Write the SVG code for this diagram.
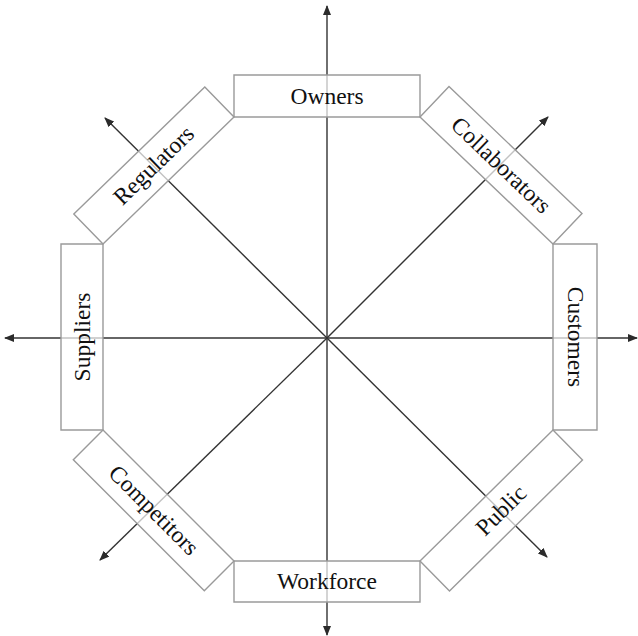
<svg xmlns="http://www.w3.org/2000/svg" width="638" height="636" viewBox="0 0 638 636">
  <defs>
    <marker id="arrow" viewBox="0 0 10 8" refX="9" refY="4" markerWidth="10" markerHeight="8" markerUnits="userSpaceOnUse" orient="auto-start-reverse">
      <path d="M0,0 L10,4 L0,8 Z" fill="#2b2b2b"/>
    </marker>
    <style>
      .axis { stroke: #333; stroke-width: 1.4; fill: none; }
      .box { fill: #ffffff; fill-opacity: 0.7; stroke: #9a9a9a; stroke-width: 1.4; }
      .lbl { font-family: "Liberation Serif", "DejaVu Serif", serif; font-size: 23.5px; fill: #111; text-anchor: middle; }
    </style>
  </defs>
  <rect width="638" height="636" fill="#ffffff"/>

  <!-- axes through the hub -->
  <g id="connectors">
    <line class="axis" x1="327" y1="338" x2="327" y2="6" marker-end="url(#arrow)"/>
    <line class="axis" x1="327" y1="338" x2="327" y2="635" marker-end="url(#arrow)"/>
    <line class="axis" x1="327" y1="338" x2="5" y2="338" marker-end="url(#arrow)"/>
    <line class="axis" x1="327" y1="338" x2="637" y2="338" marker-end="url(#arrow)"/>
    <line class="axis" x1="327" y1="338" x2="105" y2="118" marker-end="url(#arrow)"/>
    <line class="axis" x1="327" y1="338" x2="548" y2="117" marker-end="url(#arrow)"/>
    <line class="axis" x1="327" y1="338" x2="100" y2="560" marker-end="url(#arrow)"/>
    <line class="axis" x1="327" y1="338" x2="547" y2="557" marker-end="url(#arrow)"/>
  </g>

  <!-- octagon ring of stakeholder boxes -->
  <g id="owners">
    <polygon class="box" points="234,117 420,117 420,75 234,75"/>
    <text class="lbl" transform="translate(327,96.5)" y="7.5">Owners</text>
  </g>
  <g id="collaborators">
    <polygon class="box" points="420,117 553,244 582,213.6 449,86.6"/>
    <text class="lbl" transform="translate(501,165.3) rotate(43.7)" y="7.5">Collaborators</text>
  </g>
  <g id="customers">
    <polygon class="box" points="553,244 553,430 597,430 597,244"/>
    <text class="lbl" transform="translate(575,337) rotate(90)" y="7.5">Customers</text>
  </g>
  <g id="public">
    <polygon class="box" points="553,430 420,561 449.5,590.9 582.5,459.9"/>
    <text class="lbl" transform="translate(501.2,510.5) rotate(-44.6)" y="7.5">Public</text>
  </g>
  <g id="workforce">
    <polygon class="box" points="420,561 234,561 234,602 420,602"/>
    <text class="lbl" transform="translate(327,581.5)" y="7.5">Workforce</text>
  </g>
  <g id="competitors">
    <polygon class="box" points="234,561 103,430 73.3,459.7 204.3,590.7"/>
    <text class="lbl" transform="translate(153.7,510.3) rotate(45)" y="7.5">Competitors</text>
  </g>
  <g id="suppliers">
    <polygon class="box" points="103,430 103,244 61,244 61,430"/>
    <text class="lbl" transform="translate(82,337) rotate(-90)" y="7.5">Suppliers</text>
  </g>
  <g id="regulators">
    <polygon class="box" points="103,244 234,117 204.8,86.9 73.8,213.9"/>
    <text class="lbl" transform="translate(153.9,165.4) rotate(-44.1)" y="7.5">Regulators</text>
  </g>
</svg>
